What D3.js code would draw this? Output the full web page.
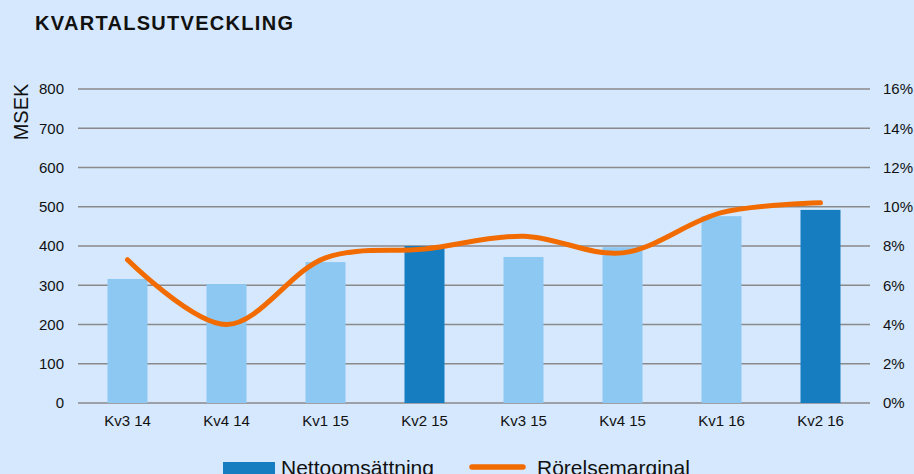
<!DOCTYPE html>
<html>
<head>
<meta charset="utf-8">
<script src="https://cdn.jsdelivr.net/npm/d3@7"></script>
<style>
  body { margin: 0; background: #d5e8fd; }
  svg { display: block; font-family: "Liberation Sans", Arial, sans-serif; }
</style>
</head>
<body>
<div id="chart"></div>
<script>
// data
const quarters = ["Kv3 14", "Kv4 14", "Kv1 15", "Kv2 15", "Kv3 15", "Kv4 15", "Kv1 16", "Kv2 16"];
const sales = [316, 303, 359, 400, 372, 397, 476, 492];
const margin = [7.3, 4.0, 7.4, 7.85, 8.5, 7.65, 9.7, 10.2];
const highlighted = ["Kv2 15", "Kv2 16"];
const leftTicks = [0, 100, 200, 300, 400, 500, 600, 700, 800];
const rightTicks = [0, 2, 4, 6, 8, 10, 12, 14, 16];

const width = 914, height = 474;
const plot = { left: 78, right: 870, top: 89, bottom: 403 };

const svg = d3.select("#chart").append("svg")
  .attr("width", width).attr("height", height);

svg.append("rect").attr("width", width).attr("height", height).attr("fill", "#d5e8fd");

// scales
const x = d3.scaleBand().domain(quarters).range([plot.left, plot.right]).paddingInner(0.596).paddingOuter(0.298);
const y = d3.scaleLinear().domain([0, 800]).range([plot.bottom, plot.top]);
const y2 = d3.scaleLinear().domain([0, 16]).range([plot.bottom, plot.top]);

// title
svg.append("text")
  .attr("x", 35).attr("y", 30)
  .attr("font-size", 20).attr("font-weight", "bold")
  .attr("letter-spacing", 1.3)
  .attr("fill", "#111")
  .text("KVARTALSUTVECKLING");

// gridlines
svg.append("g")
  .selectAll("line")
  .data(leftTicks).enter()
  .append("line")
    .attr("x1", plot.left).attr("x2", plot.right)
    .attr("y1", d => y(d)).attr("y2", d => y(d))
    .attr("stroke", "#8a8a8a").attr("stroke-width", 1.5);

const styleTicks = (g) => {
  g.select(".domain").remove();
  g.selectAll("text")
    .attr("font-size", 15)
    .attr("fill", "#111")
    .attr("font-family", "Liberation Sans, Arial, sans-serif");
};

// left axis
svg.append("g")
  .attr("transform", `translate(${plot.left - 14},0)`)
  .call(d3.axisLeft(y).tickValues(leftTicks).tickSize(0).tickPadding(0))
  .call(styleTicks);

// right axis
svg.append("g")
  .attr("transform", `translate(${plot.right + 13},0)`)
  .call(d3.axisRight(y2).tickValues(rightTicks).tickSize(0).tickPadding(0).tickFormat(d => d + "%"))
  .call(styleTicks);

// axis title
svg.append("text")
  .attr("transform", "translate(28,112)rotate(-90)")
  .attr("text-anchor", "middle")
  .attr("font-size", 20).attr("fill", "#111")
  .text("MSEK");

// bars
svg.append("g")
  .selectAll("rect")
  .data(quarters).enter()
  .append("rect")
    .attr("x", d => x(d))
    .attr("width", x.bandwidth())
    .attr("y", (d, i) => y(sales[i]))
    .attr("height", (d, i) => y(0) - y(sales[i]))
    .attr("fill", d => highlighted.includes(d) ? "#157dc0" : "#8cc8f2");

// x labels
svg.append("g")
  .attr("transform", `translate(0,${plot.bottom + 9})`)
  .call(d3.axisBottom(x).tickSize(0).tickPadding(3))
  .call(styleTicks);

// margin line
const line = d3.line()
  .x((d, i) => x(quarters[i]) + x.bandwidth() / 2)
  .y(d => y2(d))
  .curve(d3.curveCatmullRom.alpha(0.5));

svg.append("path")
  .datum(margin)
  .attr("d", line)
  .attr("fill", "none")
  .attr("stroke", "#f26b00")
  .attr("stroke-width", 5)
  .attr("stroke-linecap", "round");

// legend
const legend = svg.append("g").attr("class", "legend");
legend.append("rect")
  .attr("x", 223).attr("y", 462).attr("width", 52).attr("height", 14)
  .attr("fill", "#157dc0");
legend.append("text")
  .attr("x", 281).attr("y", 475)
  .attr("font-size", 21).attr("fill", "#111")
  .text("Nettoomsättning");
legend.append("line")
  .attr("x1", 472).attr("x2", 523).attr("y1", 467).attr("y2", 467)
  .attr("stroke", "#f26b00").attr("stroke-width", 5.5).attr("stroke-linecap", "round");
legend.append("text")
  .attr("x", 537).attr("y", 475)
  .attr("font-size", 21).attr("fill", "#111")
  .text("Rörelsemarginal");
</script>
</body>
</html>
